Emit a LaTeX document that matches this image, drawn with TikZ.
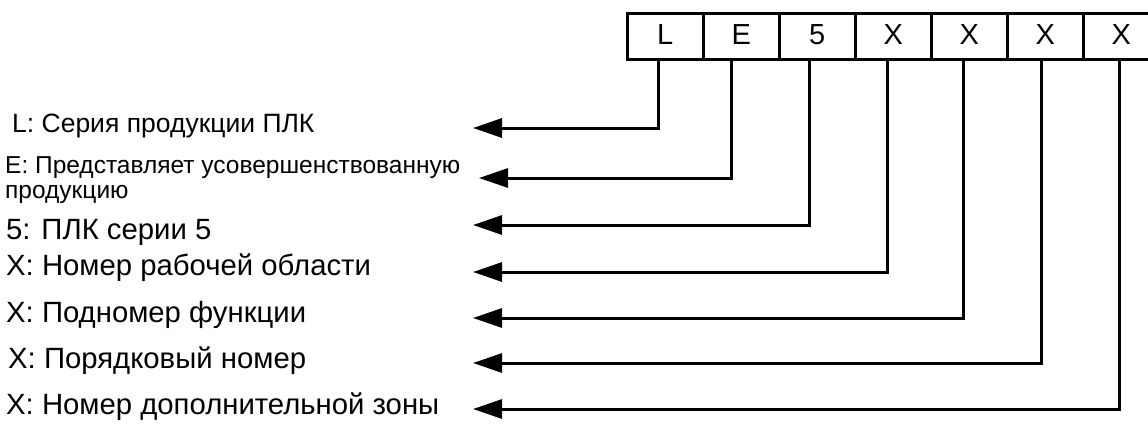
\documentclass[tikz,border=0pt]{standalone}
\usepackage{fontspec}
\setmainfont{Liberation Sans}
\usetikzlibrary{arrows.meta,calc}
\begin{document}
\begin{tikzpicture}[x=1pt,y=-1pt,
  cell/.style={draw,line width=2.5pt,minimum width=76pt,minimum height=46pt,inner sep=0pt,
    text height=16pt,text depth=0pt,
    font=\fontsize{29}{30}\selectfont,anchor=north west},
  conn/.style={line width=3pt,-{Triangle[length=29pt,width=19pt]}},
  lab/.style={anchor=west,inner sep=0pt,align=left},
  small/.style={font=\fontsize{26.5}{28}\selectfont},
  mid/.style={font=\fontsize{24.5}{25}\selectfont},
  big/.style={font=\fontsize{29.3}{30}\selectfont}]
\useasboundingbox (0,0) rectangle (1148,423);
\clip (0,0) rectangle (1148,423);
\fill[white] (0,0) rectangle (1148,423);
% code cells
\node[cell] (c1) at (626,12) {L};
\node[cell] (c2) at (702,12) {E};
\node[cell] (c3) at (778,12) {5};
\node[cell] (c4) at (854,12) {X};
\node[cell] (c5) at (930,12) {X};
\node[cell] (c6) at (1006,12) {X};
\node[cell] (c7) at (1082,12) {X};
% labels
\node[lab,small] (l1) at (12,126) {L: Серия продукции ПЛК};
\node[lab,mid] (l2) at (5,180) {E: Представляет усовершенствованную\\продукцию};
\node[lab,big] (l3) at (6,232) {5: ПЛК серии 5};
\node[lab,big] (l4) at (6,268) {X: Номер рабочей области};
\node[lab,big] (l5) at (6,315) {X: Подномер функции};
\node[lab,big] (l6) at (8,361) {X: Порядковый номер};
\node[lab,big] (l7) at (6,407) {X: Номер дополнительной зоны};
% arrow targets
\coordinate (t1) at (473,128);
\coordinate (t2) at (479,178);
\coordinate (t3) at (473,225);
\coordinate (t4) at (473,272);
\coordinate (t5) at (473,318);
\coordinate (t6) at (473,363);
\coordinate (t7) at (473,409);
% connectors
\draw[conn] ($(c1.south)+(-7,0)$) |- (t1);
\draw[conn] ($(c2.south)+(-10,0)$) |- (t2);
\draw[conn] ($(c3.south)+(-8,0)$) |- (t3);
\draw[conn] ($(c4.south)+(-6,0)$) |- (t4);
\draw[conn] ($(c5.south)+(-6,0)$) |- (t5);
\draw[conn] ($(c6.south)+(-4,0)$) |- (t6);
\draw[conn] ($(c7.south)+(-2,0)$) |- (t7);
\end{tikzpicture}
\end{document}
